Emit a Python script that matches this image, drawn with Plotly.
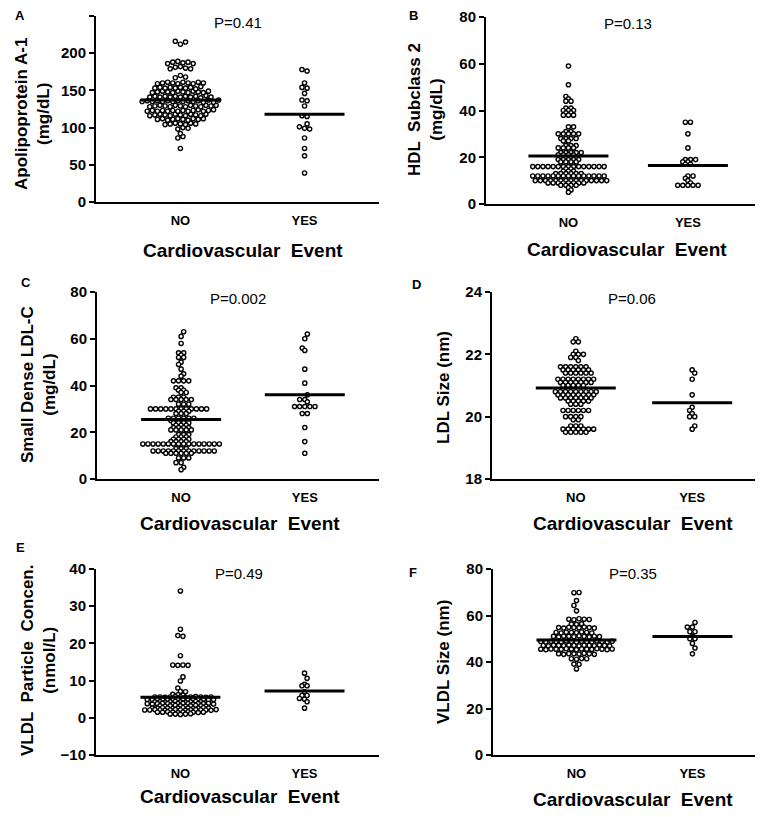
import numpy as np
import plotly.graph_objects as go

# browser body margin (8 px) is compensated so that pixel positions match the window
PAGE_W, PAGE_H, BODY = 763, 817, 8
W, H = PAGE_W - BODY, PAGE_H - 2 * BODY

# ---------------- data ----------------
categories = ["NO", "YES"]

apoa1_no = [72,
            86, 88,
            92,
            98, 100, 99,
            104, 105, 106, 105, 104, 106, 105,
            111, 112, 110, 111, 112, 111, 110, 112, 111, 112,
            116, 117, 118, 117, 116, 118, 117, 116, 118, 117, 116, 118,
            122, 123, 122, 123, 122, 123, 122, 123, 122, 123, 124, 122, 123, 124,
            128, 129, 130, 129, 128, 130, 129, 128, 130, 129, 128, 130, 129, 130,
            135, 136, 135, 136, 135, 136, 135, 136, 135, 136, 135, 136, 134, 137, 134, 137,
            141, 142, 141, 142, 141, 142, 141, 142, 141, 142, 140, 143, 141,
            147, 148, 149, 148, 147, 149, 148, 147, 149, 148, 147, 149,
            153, 154, 153, 154, 153, 154, 153, 154, 152, 155,
            159, 160, 161, 160, 159, 161, 160, 159, 161, 160,
            167, 170, 168,
            179, 181, 182, 180, 179,
            186, 188, 189, 187, 188, 186,
            216, 212, 215]
apoa1_yes = [178, 176, 160, 154, 153, 146, 137, 136, 129, 116, 115, 105, 101,
             99, 98, 86, 72, 62, 39]

hdl2_no = [59, 51,
           46, 45, 44, 44,
           41, 41, 40, 40, 40,
           39, 39, 38, 38, 38,
           33, 33,
           31, 31, 30, 30, 30, 30, 30,
           28, 28, 28, 28, 27, 27,
           25, 25, 25, 24, 24, 24, 24,
           22, 22, 22, 22, 22, 21, 21, 21, 21,
           20, 20, 20, 20,
           19, 19, 19, 19, 19, 18, 18, 18, 18,
           16, 16, 16, 16, 16, 16, 16, 16, 16, 16, 16, 16, 16, 16, 16,
           15, 15, 14, 14, 14,
           13, 13, 13, 13, 13, 13,
           12, 12, 12, 12, 12, 12, 12, 12, 12, 12, 12, 12, 12, 12, 12,
           10, 10, 10, 10, 10, 10, 10, 10, 10, 10, 10, 10, 10, 10, 10,
           9, 9, 9, 9, 9, 9, 9, 9,
           8, 8, 8, 8,
           7, 6, 5]
hdl2_yes = [35, 35, 30, 24, 19, 19, 19, 18, 18, 17, 17, 12, 12, 11, 10, 9,
            8, 8, 8, 8, 8]

sdldl_no = [63, 61, 58, 54, 54, 53, 52, 52, 50, 49, 47, 45, 44,
            42, 42, 42, 42,
            39, 39, 38, 38, 37, 37,
            35, 35, 35, 34, 34, 34, 34, 34,
            32, 32, 32,
            30, 30, 30, 30, 30, 30, 30, 30, 30, 30, 30, 30,
            29, 29, 29, 28, 28, 28,
            26, 26, 26, 26, 26, 26, 25, 25, 25, 25,
            24, 24, 24, 24, 23, 23, 23,
            22, 22, 22, 22, 21, 21, 21, 21, 21,
            19, 19, 19, 18, 18, 18,
            17, 17, 17, 17,
            16, 16, 16, 16,
            15, 15, 15, 15, 15, 15, 15, 15, 15, 15, 15, 15, 15, 15, 15, 15,
            13, 13, 13,
            12, 12, 12, 12, 12, 12, 12, 12, 12, 12, 12, 12, 12,
            11, 11, 11, 11, 11, 11,
            9, 9, 9, 7, 7, 5, 4]
sdldl_yes = [62, 60, 56, 55, 47, 41, 36, 34, 34, 33, 31, 31, 31, 31, 31,
             28, 28, 22, 16, 11]

ldlsize_no = [22.5, 22.4, 22.4, 22.1, 22.0, 22.0, 22.0, 21.9, 21.9, 21.8,
              21.6, 21.6, 21.6, 21.6, 21.6, 21.6,
              21.5, 21.5, 21.5, 21.5, 21.5, 21.5,
              21.4, 21.4, 21.4, 21.4, 21.4, 21.4,
              21.2, 21.2, 21.2, 21.2, 21.2, 21.2, 21.2, 21.2,
              21.1, 21.1, 21.1, 21.1, 21.1, 21.1, 21.1,
              21.0, 21.0, 21.0, 21.0, 21.0,
              20.8, 20.8, 20.8, 20.8, 20.8, 20.8, 20.8, 20.8, 20.8,
              20.7, 20.7, 20.7, 20.7, 20.7, 20.7, 20.7, 20.7,
              20.6, 20.6, 20.6, 20.6, 20.6, 20.6, 20.6,
              20.5, 20.5, 20.5, 20.5, 20.5,
              20.4, 20.4, 20.4,
              20.2, 20.2, 20.2, 20.2, 20.2, 20.2,
              20.0, 20.0, 20.0, 20.0,
              19.9, 19.9,
              19.7, 19.7, 19.7,
              19.6, 19.6, 19.6, 19.6, 19.6, 19.6, 19.6,
              19.5, 19.5, 19.5, 19.5, 19.5]
ldlsize_yes = [21.5, 21.4, 21.2, 20.7, 20.3, 20.2, 20.1, 20.0, 20.0, 19.7, 19.6]

vldlp_no = [34.1, 23.8, 22.1, 21.9, 16.7, 14.2, 14.1, 14.2, 14.1, 11.0, 9.9, 8.0,
            7.1, 7.0, 6.3, 6.2, 6.1,
            5.6, 5.6, 5.5, 5.6, 5.7, 5.6, 5.5, 5.6, 5.7, 5.6, 5.5, 5.6,
            4.9, 4.9, 5.0, 4.9, 4.8, 4.9, 5.0, 4.9, 4.8, 4.9, 5.0, 4.9, 4.8, 4.9,
            4.3, 4.3, 4.2, 4.3, 4.4, 4.3, 4.2, 4.3, 4.4, 4.3,
            3.8, 3.7, 3.8, 3.9, 3.8, 3.7, 3.8, 3.9, 3.8, 3.7, 3.8, 3.8, 3.9, 3.7,
            3.2, 3.1, 3.2, 3.3, 3.2, 3.1, 3.2, 3.3, 3.2, 3.1,
            2.6, 2.6, 2.7, 2.6, 2.5, 2.6, 2.7, 2.6, 2.5, 2.6, 2.7, 2.6,
            2.1, 2.1, 2.2, 2.1, 2.0, 2.1, 2.2, 2.1, 2.0, 2.1, 2.2, 2.1, 2.1, 2.0, 2.2,
            1.5, 1.5, 1.6, 1.5, 1.4, 1.5, 1.6, 1.5, 1.4, 1.5,
            1.0, 1.0, 0.9, 1.0, 1.1]
vldlp_yes = [12.0, 10.6, 9.0, 8.6, 8.6, 7.0, 6.0, 6.0, 5.2, 5.0, 4.3, 2.6]

vldlsize_no = [69.8, 69.9,
               66.4, 64.3, 62.0,
               58.4, 58.2, 58.6, 58.4, 58.3,
               56.3, 56.2, 56.4,
               54.8, 54.6, 54.9, 54.8, 54.7, 55.0, 54.8, 54.6,
               52.7, 52.5, 52.8, 52.7, 52.6, 52.9, 52.7, 52.5,
               51.0, 50.8, 51.1, 51.0, 50.9, 51.2, 51.0, 50.8, 51.1, 50.9,
               48.8, 48.6, 48.9, 48.8, 48.7, 49.0, 48.8, 48.6, 48.9, 48.8,
               48.7, 49.0, 48.8, 48.6, 48.9,
               47.1, 46.9, 47.2, 47.1, 47.0, 47.3, 47.1, 46.9, 47.2, 47.1,
               47.0, 47.3, 47.1, 46.9,
               45.5, 45.3, 45.6, 45.5, 45.4, 45.7, 45.5, 45.3, 45.6, 45.5,
               45.4, 45.7, 45.5, 45.3, 45.6,
               43.5, 43.3, 43.6, 43.5, 43.4, 43.7, 43.5, 43.3,
               41.4, 41.2, 41.5, 41.4,
               39.1, 39.0,
               37.0]
vldlsize_yes = [57, 55, 55, 53, 53, 51, 50, 50, 48, 46, 43.5]

means_no = [137, 20.5, 25.5, 20.92, 5.5, 49.5]
means_yes = [118, 16.5, 36, 20.45, 7.2, 51]

p_texts = ["P=0.41", "P=0.13", "P=0.002", "P=0.06", "P=0.49", "P=0.35"]
panel_letters = ["A", "B", "C", "D", "E", "F"]
y_titles = ["Apolipoprotein A-1<br>(mg/dL)", "HDL  Subclass 2<br>(mg/dL)",
            "Small Dense LDL-C<br>(mg/dL)", "LDL Size (nm)",
            "VLDL  Particle  Concen.<br>(nmol/L)", "VLDL Size (nm)"]
x_title = "Cardiovascular  Event"
y_ranges = [[0, 250], [0, 80], [0, 80], [18, 24], [-10, 40], [0, 80]]
y_dticks = [50, 20, 20, 2, 10, 20]
row_bins = [5, 1, 1, 0.07, 0.3, 1]   # value span grouped into one swarm row

groups = [(apoa1_no, apoa1_yes), (hdl2_no, hdl2_yes), (sdldl_no, sdldl_yes),
          (ldlsize_no, ldlsize_yes), (vldlp_no, vldlp_yes), (vldlsize_no, vldlsize_yes)]

# ---------------- layout geometry (window pixels) ----------------
geom = [
    (96, 379, 16, 202, [-0.68, 1.6]),
    (486, 762, 17, 204, [-0.69, 1.62]),
    (97, 379, 292, 479, [-0.68, 1.6]),
    (492, 762, 292, 479, [-0.72, 1.6]),
    (96, 379, 569, 755, [-0.68, 1.6]),
    (493, 762, 569, 755, [-0.72, 1.6]),
]
letter_pos = [(20, 15), (413, 15), (26, 283), (417, 285), (20, 547), (413, 572)]
p_pos = [(238, 22), (628, 23), (238, 298), (632, 298), (239, 573), (633, 573)]
ytitle_pos = [(33, 114), (426, 110), (38, 385), (443, 387), (38, 661), (443, 662)]
xtitle_pos = [(243, 250), (627, 249), (240, 523), (633, 523), (240, 796), (633, 799)]

SP = 5.1   # horizontal spacing of points in a row (px)
FONT = "Arial, Liberation Sans, sans-serif"


def swarm_rows(values, binw, ppx, ppy, sp):
    vals = np.asarray(values, dtype=float)
    order = np.argsort(vals, kind="stable")
    rows, cur, start = [], [], None
    for i in order:
        if start is None or vals[i] >= start + binw - 1e-9:
            if cur:
                rows.append(cur)
            cur, start = [i], vals[i]
        else:
            cur.append(i)
    if cur:
        rows.append(cur)
    offs = np.zeros(len(vals))
    prev_phase, prev_y, sign = None, None, 1
    for r in rows:
        n = len(r)
        ym = vals[r].mean() * ppy
        base = 0.5 if n % 2 == 0 else 0.0
        shift = 0.0
        if prev_y is not None and abs(ym - prev_y) < 1.25 * sp:
            want = (prev_phase + 0.5) % 1.0
            if abs(((want - base) % 1.0) - 0.5) < 1e-6:
                shift = 0.5 * sp * sign
                sign = -sign
        phase = (base + shift / sp) % 1.0
        for j, i in enumerate(sorted(r)):
            offs[i] = ((j - (n - 1) / 2) * sp + shift) / ppx
        prev_phase, prev_y = phase, ym
    return offs


def fx(px):
    return (px - BODY) / W


def fy(py):
    return 1 - (py - BODY) / H


fig = go.Figure()
annotations = []

for k in range(6):
    x0, x1, yt, yb, xr = geom[k]
    yr = y_ranges[k]
    ppx = (x1 - x0) / (xr[1] - xr[0])
    ppy = (yb - yt) / (yr[1] - yr[0])
    ax = "" if k == 0 else str(k + 1)
    xa, ya = "x" + ax, "y" + ax

    for ci, vals in enumerate(groups[k]):
        offs = swarm_rows(vals, row_bins[k], ppx, ppy, SP)
        fig.add_trace(go.Scatter(
            x=ci + offs, y=vals, mode="markers", xaxis=xa, yaxis=ya,
            marker=dict(symbol="circle", size=4.2, color="white",
                        line=dict(color="black", width=1.4)),
            showlegend=False, hoverinfo="y", cliponaxis=False))

    half = 40 / ppx
    for ci, m in enumerate([means_no[k], means_yes[k]]):
        fig.add_trace(go.Scatter(
            x=[ci - half, ci + half], y=[m, m], mode="lines", xaxis=xa, yaxis=ya,
            line=dict(color="black", width=3), showlegend=False, hoverinfo="skip"))

    fig.update_layout(**{
        ("xaxis" + ax): dict(domain=[fx(x0), fx(x1)], range=xr, anchor=ya,
                             tickvals=[0, 1], ticktext=categories, automargin=False,
                             showline=True, linecolor="black", linewidth=2,
                             ticks="outside", ticklen=5, tickcolor="rgba(0,0,0,0)",
                             showgrid=False, zeroline=False,
                             tickfont=dict(family=FONT, size=13, color="black", weight="bold")),
        ("yaxis" + ax): dict(domain=[fy(yb), fy(yt)], range=yr, anchor=xa,
                             dtick=y_dticks[k], tick0=yr[0], automargin=False,
                             showline=True, linecolor="black", linewidth=2,
                             ticks="outside", ticklen=5, tickwidth=2, tickcolor="black",
                             showgrid=False, zeroline=False,
                             tickfont=dict(family=FONT, size=15, color="black", weight="bold")),
    })

    lx, ly = letter_pos[k]
    annotations.append(dict(x=fx(lx), y=fy(ly), xref="paper", yref="paper",
                            xanchor="center", yanchor="middle",
                            text=panel_letters[k], showarrow=False,
                            font=dict(family=FONT, size=13, color="black", weight="bold")))
    px_, py_ = p_pos[k]
    annotations.append(dict(x=fx(px_), y=fy(py_), xref="paper", yref="paper",
                            xanchor="center", yanchor="middle",
                            text=p_texts[k], showarrow=False,
                            font=dict(family=FONT, size=15, color="black")))
    tx, ty = ytitle_pos[k]
    annotations.append(dict(x=fx(tx), y=fy(ty), xref="paper", yref="paper",
                            xanchor="center", yanchor="middle",
                            text=y_titles[k], showarrow=False, textangle=-90,
                            font=dict(family=FONT, size=17, color="black", weight="bold")))
    sx, sy = xtitle_pos[k]
    annotations.append(dict(x=fx(sx), y=fy(sy), xref="paper", yref="paper",
                            xanchor="center", yanchor="middle",
                            text=x_title, showarrow=False,
                            font=dict(family=FONT, size=19, color="black", weight="bold")))

fig.update_layout(template="none", width=W, height=H,
                  margin=dict(l=0, r=0, t=0, b=0, autoexpand=False),
                  paper_bgcolor="white", plot_bgcolor="white",
                  annotations=annotations, showlegend=False)

fig.write_html("out.html")
